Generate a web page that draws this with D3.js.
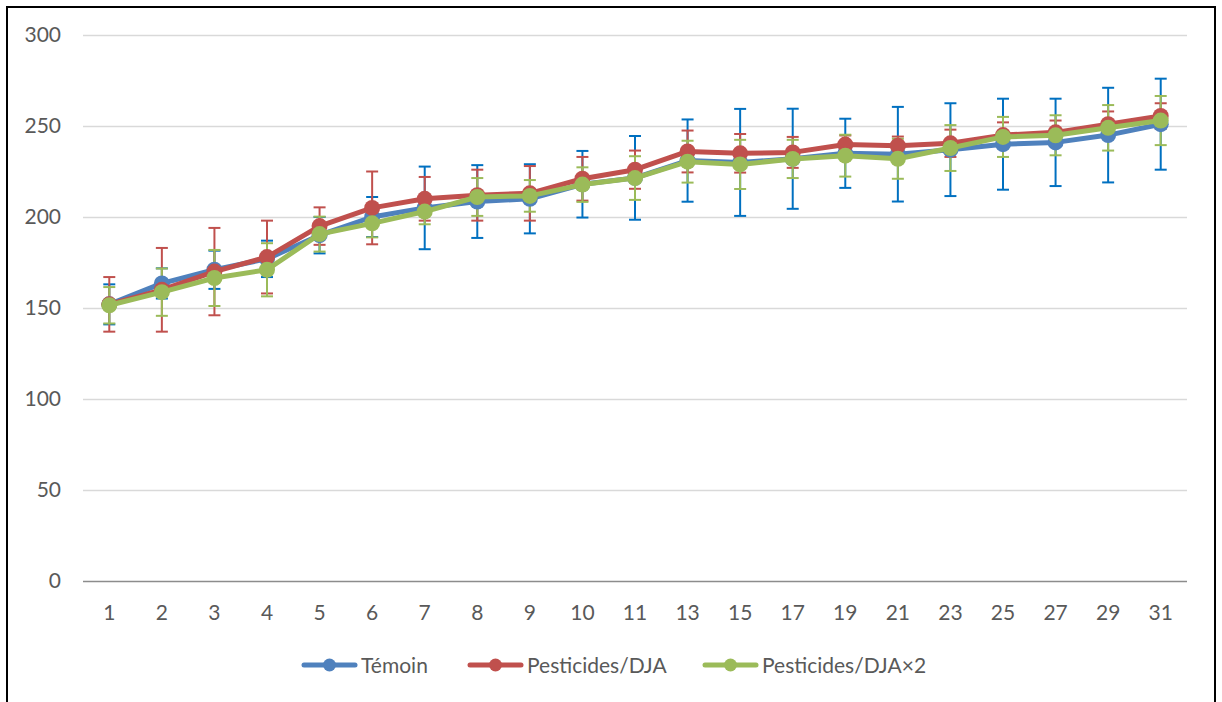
<!DOCTYPE html>
<html><head><meta charset="utf-8">
<script src="https://cdn.jsdelivr.net/npm/d3@7"></script>
<style>
html,body{margin:0;padding:0;background:#fff;overflow:hidden;}
svg{display:block;font-family:Lato,"Open Sans",sans-serif;}
</style></head>
<body>
<svg id="chart" width="1222" height="702"></svg>
<script>
const categories = ["1","2","3","4","5","6","7","8","9","10","11","13","15","17","19","21","23","25","27","29","31"];
const temoin     = [152,163.5,171,177,190,200,205,208.5,210,218,221.5,231,230,232,235,234.5,237,240,241,245,251];
const temoinErr  = [11,8.3,10.5,10,10,11,22.7,20,19,18.3,23,22.6,29.4,27.5,19,26,25.5,25,24,26,25];
const dja        = [152,160,170,178,195,205,210,212,213,221,226,236,235,235.5,239.8,239.2,240.5,245,246.5,251,255.5];
const djaErr     = [15,23,24,20,10.3,20,12,14,15,12,10.5,11.5,10.6,8.5,5,5,7.5,7,6.5,7,7];
const dja2       = [151.5,158.7,166.5,171,190.6,196.5,203,211,211.6,217.8,221.4,230.4,228.9,231.9,233.7,232,237.9,244,244.9,249,253];
const dja2Err    = [10,13,15.4,14.6,9.6,7.7,7,10.4,8.7,9.5,12,11.5,13.5,10.5,11.5,11,12.6,11,11,12.5,13.5];
const yTicks     = [0,50,100,150,200,250,300];
const seriesNames = ["Témoin","Pesticides/DJA","Pesticides/DJA×2"];

const series = [
  {name: seriesNames[0], values: temoin, err: temoinErr, color: "#4F81BD", errColor: "#0070C0"},
  {name: seriesNames[1], values: dja, err: djaErr, color: "#C0504D", errColor: "#C0504D"},
  {name: seriesNames[2], values: dja2, err: dja2Err, color: "#9BBB59", errColor: "#9BBB59"}
];

const svg = d3.select("#chart");
svg.append("path").attr("d","M7,702 V7 H1215 V702").attr("fill","none").attr("stroke","#000").attr("stroke-width",2);

const mLeft = 83, mRight = 1187, mTop = 35, mBottom = 581;
const x = d3.scaleBand().domain(categories).range([mLeft, mRight]).paddingInner(0).paddingOuter(0);
const y = d3.scaleLinear().domain([0,300]).range([mBottom, mTop]);
const cx = c => x(c) + x.bandwidth()/2;
const font = "Lato, 'Open Sans', sans-serif";

const yAxis = d3.axisLeft(y).tickValues(yTicks).tickSize(-(mRight-mLeft)).tickPadding(22);
const gy = svg.append("g").attr("transform",`translate(${mLeft},0)`).call(yAxis);
gy.select(".domain").remove();
gy.selectAll(".tick line").attr("stroke", d => d===0 ? "#8c8c8c" : "#d9d9d9").attr("stroke-width",1.5);
gy.selectAll(".tick text").attr("fill","#595959").attr("font-size","21px").attr("font-family",font);

const xAxis = d3.axisBottom(x).tickSize(0).tickPadding(24);
const gx = svg.append("g").attr("transform",`translate(0,${mBottom})`).call(xAxis);
gx.select(".domain").remove();
gx.selectAll(".tick text").attr("fill","#595959").attr("font-size","21px").attr("font-family",font);

const line = d3.line().x((d,i)=>cx(categories[i])).y(d=>y(d));
const capW = 6;

series.forEach(s => {
  const g = svg.append("g");
  s.values.forEach((v,i) => {
    const px = cx(categories[i]);
    const y1 = y(v + s.err[i]), y2 = y(v - s.err[i]);
    g.append("line").attr("x1",px).attr("x2",px).attr("y1",y1).attr("y2",y2).attr("stroke",s.errColor).attr("stroke-width",2);
    g.append("line").attr("x1",px-capW).attr("x2",px+capW).attr("y1",y1).attr("y2",y1).attr("stroke",s.errColor).attr("stroke-width",2);
    g.append("line").attr("x1",px-capW).attr("x2",px+capW).attr("y1",y2).attr("y2",y2).attr("stroke",s.errColor).attr("stroke-width",2);
  });
});

series.forEach(s => {
  svg.append("path").datum(s.values).attr("d",line).attr("fill","none").attr("stroke",s.color).attr("stroke-width",5).attr("stroke-linejoin","round");
  svg.append("g").selectAll("circle").data(s.values).join("circle")
    .attr("cx",(d,i)=>cx(categories[i])).attr("cy",d=>y(d)).attr("r",8).attr("fill",s.color);
});

const legX = [302, 468, 703];
const legY = 665;
series.forEach((s,i) => {
  const g = svg.append("g").attr("transform",`translate(${legX[i]},${legY})`);
  g.append("line").attr("x1",2).attr("x2",53).attr("y1",0).attr("y2",0).attr("stroke",s.color).attr("stroke-width",5).attr("stroke-linecap","round");
  g.append("circle").attr("cx",27.5).attr("cy",0).attr("r",6.5).attr("fill",s.color);
  g.append("text").attr("x",59).attr("y",0).attr("dy","0.36em").attr("fill","#595959").attr("font-size","21px").attr("font-family",font).text(s.name);
});
</script>
</body></html>
